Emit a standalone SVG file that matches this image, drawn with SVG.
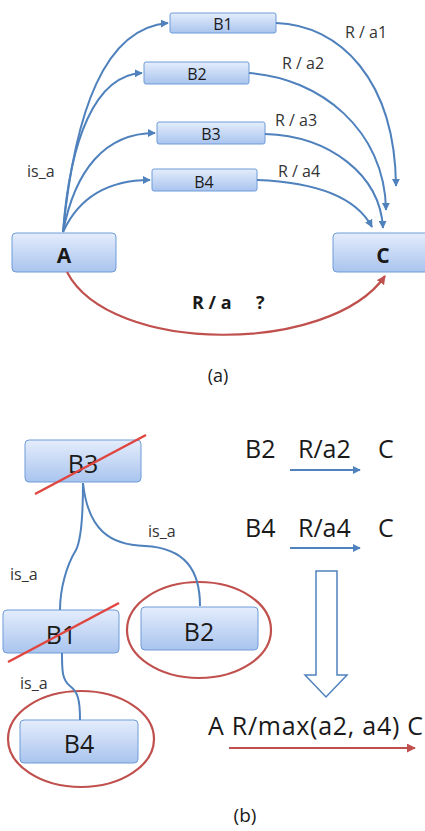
<svg xmlns="http://www.w3.org/2000/svg" width="425" height="831" viewBox="0 0 425 831">
<defs>
<linearGradient id="gb" x1="0" y1="0" x2="0" y2="1">
<stop offset="0" stop-color="#e4edfc"/>
<stop offset="1" stop-color="#a9c4ee"/>
</linearGradient>
<marker id="ab" viewBox="0 0 10 10" refX="9" refY="5" markerWidth="8" markerHeight="8" markerUnits="userSpaceOnUse" orient="auto">
<path d="M0,0 L10,5 L0,10 z" fill="#4f81bd"/>
</marker>
<marker id="ar" viewBox="0 0 10 10" refX="9" refY="5" markerWidth="9" markerHeight="9" markerUnits="userSpaceOnUse" orient="auto">
<path d="M0,0 L10,5 L0,10 z" fill="#c0504d"/>
</marker>
</defs>
<style>
text{font-family:"Open Sans","Liberation Sans",sans-serif;fill:#1a1a1a}
.box{fill:url(#gb);stroke:#6f9bd8;stroke-width:1}
.sm{font-size:16px}
.lb{font-size:16px;fill:#333}
.bg{font-size:25px}
.bd{font-size:21px;font-weight:bold}
.bl{fill:none;stroke:#4f81bd;stroke-width:2}
.rd{fill:none;stroke:#c0504d;stroke-width:2.2}
.strike{stroke:#e0453f;stroke-width:2.5}
</style>
<rect width="425" height="831" fill="#ffffff"/>

<!-- Part (a) nodes -->
<g id="a-B1"><rect class="box" x="170" y="13" width="106" height="20" rx="2"/><text class="sm" x="223" y="30" text-anchor="middle">B1</text></g>
<g id="a-B2"><rect class="box" x="144" y="62" width="105" height="22" rx="2"/><text class="sm" x="197" y="80" text-anchor="middle">B2</text></g>
<g id="a-B3"><rect class="box" x="157" y="122" width="108" height="22" rx="2"/><text class="sm" x="211" y="140" text-anchor="middle">B3</text></g>
<g id="a-B4"><rect class="box" x="152" y="169" width="105" height="22" rx="2"/><text class="sm" x="204" y="188" text-anchor="middle">B4</text></g>
<g id="a-A"><rect class="box" x="12" y="233" width="104" height="39" rx="4"/><text class="bd" x="64" y="263" text-anchor="middle">A</text></g>
<g id="a-C"><rect class="box" x="333" y="233" width="100" height="39" rx="4"/><text class="bd" x="383" y="263" text-anchor="middle">C</text></g>

<!-- Part (b) nodes -->
<g id="b-B3"><rect class="box" x="25" y="440" width="116" height="42" rx="4"/><text class="bg" x="83" y="473" text-anchor="middle">B3</text><line class="strike" x1="35" y1="494" x2="146" y2="435"/></g>
<g id="b-B1"><rect class="box" x="3" y="610" width="116" height="43" rx="4"/><text class="bg" x="61" y="644" text-anchor="middle">B1</text><line class="strike" x1="8" y1="662" x2="119" y2="603"/></g>
<g id="b-B2"><rect class="box" x="141" y="607" width="117" height="43" rx="4"/><text class="bg" x="199" y="641" text-anchor="middle">B2</text><ellipse class="rd" cx="199" cy="630" rx="72" ry="48" stroke-width="2.5"/></g>
<g id="b-B4"><rect class="box" x="20" y="720" width="118" height="43" rx="4"/><text class="bg" x="79" y="753" text-anchor="middle">B4</text><ellipse class="rd" cx="81" cy="739" rx="73" ry="48" stroke-width="2.5"/></g>

<!-- Connectors -->
<g id="connectors">
<path class="bl" d="M63,232 C75,110 105,28 168,23" marker-end="url(#ab)"/>
<path class="bl" d="M63,232 C70,140 95,75 142,73" marker-end="url(#ab)"/>
<path class="bl" d="M63,232 C75,170 105,133 155,133" marker-end="url(#ab)"/>
<path class="bl" d="M63,232 C80,195 110,180 150,180" marker-end="url(#ab)"/>
<path class="bl" d="M276,23 C340,25 395,80 396,186" marker-end="url(#ab)"/>
<path class="bl" d="M249,73 C320,78 385,130 386,210" marker-end="url(#ab)"/>
<path class="bl" d="M265,134 C330,136 380,175 383,228" marker-end="url(#ab)"/>
<path class="bl" d="M257,180 C310,182 355,195 372,227" marker-end="url(#ab)"/>
<path class="rd" d="M67,272 C110,355 330,355 385,276" marker-end="url(#ar)"/>
<text class="lb" x="345" y="38">R / a1</text>
<text class="lb" x="282" y="69">R / a2</text>
<text class="lb" x="275" y="126">R / a3</text>
<text class="lb" x="278" y="177">R / a4</text>
<text class="lb" x="27" y="177">is_a</text>
<text x="192" y="309" font-size="18" font-weight="bold">R / a <tspan x="256">?</tspan></text>

<path class="bl" d="M83,483 C83,520 81,540 76,550 C66,566 60,590 60,610"/>
<path class="bl" d="M83,483 C88,530 110,545 145,546 C185,548 200,570 200,606"/>
<path class="bl" d="M62,653 C62,670 62,680 70,686 C78,692 80,700 80,720"/>
<text class="lb" x="148" y="537">is_a</text>
<text class="lb" x="10" y="580">is_a</text>
<text class="lb" x="20" y="689" font-size="14">is_a</text>

<text class="bg" x="245" y="458">B2</text>
<text class="bg" x="298" y="458">R/a2</text>
<text class="bg" x="378" y="458">C</text>
<line class="bl" x1="290" y1="470" x2="360" y2="470" stroke-width="2.5" marker-end="url(#ab)"/>
<text class="bg" x="245" y="537">B4</text>
<text class="bg" x="298" y="537">R/a4</text>
<text class="bg" x="378" y="537">C</text>
<line class="bl" x1="290" y1="548" x2="360" y2="548" stroke-width="2.5" marker-end="url(#ab)"/>
<polygon points="316,571 337,571 337,675 347,675 326,697 305,675 316,675" fill="#ffffff" stroke="#4f81bd" stroke-width="1.5"/>
<text class="bg" x="208" y="735" textLength="215" lengthAdjust="spacing">A R/max(a2, a4) C</text>
<line class="rd" x1="229" y1="748" x2="415" y2="748" marker-end="url(#ar)"/>
</g>

<text x="218" y="382" font-size="18" text-anchor="middle">(a)</text>
<text x="245" y="822" font-size="19" text-anchor="middle">(b)</text>
</svg>
